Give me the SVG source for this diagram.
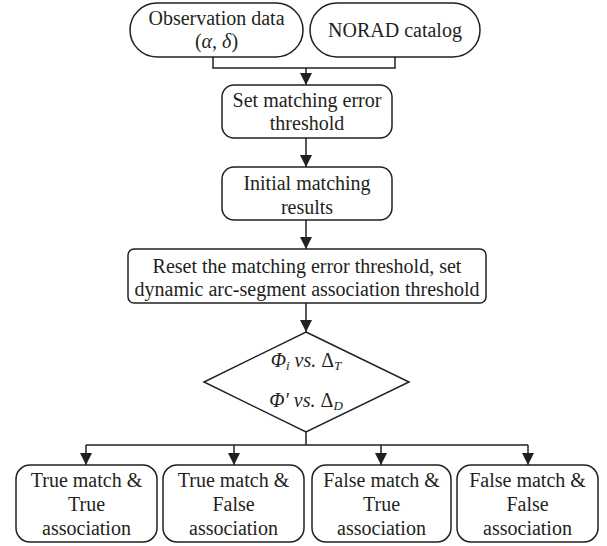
<svg xmlns="http://www.w3.org/2000/svg" width="607" height="546" viewBox="0 0 607 546">
<defs>
<marker id="ah" markerWidth="12" markerHeight="12" viewBox="0 0 12 12" refX="12" refY="6" orient="auto" markerUnits="userSpaceOnUse">
<path d="M0,0 L12,6 L0,12 Z" fill="#231f20"/>
</marker>
<style>
.box{fill:#fff;stroke:#231f20;stroke-width:1.5}
.ln{fill:none;stroke:#231f20;stroke-width:1.5}
.ar{fill:none;stroke:#231f20;stroke-width:1.5;marker-end:url(#ah)}
text{font-family:"Liberation Serif","Times New Roman",serif;font-size:20px;fill:#231f20;text-anchor:middle}
.it{font-style:italic}
.sub{font-size:13px}
</style>
</defs>
<rect width="607" height="546" fill="#fff"/>
<g id="connectors">
<path class="ln" d="M213,57 V68 H395 V57"/>
<path class="ar" d="M306,68 V85"/>
<path class="ar" d="M306,138 V167"/>
<path class="ar" d="M306,220 V249"/>
<path class="ar" d="M306,303 V332"/>
<path class="ln" d="M306,432 V445 M86,445 H528"/>
<path class="ar" d="M86,445 V465"/>
<path class="ar" d="M234,445 V465"/>
<path class="ar" d="M381,445 V465"/>
<path class="ar" d="M528,445 V465"/>
</g>
<g id="obs">
<rect class="box" x="130" y="3" width="173" height="54" rx="27"/>
<text x="216.5" y="25">Observation data</text>
<text x="216.5" y="48">(<tspan class="it">α</tspan>, <tspan class="it">δ</tspan>)</text>
</g>
<g id="norad">
<rect class="box" x="310" y="3" width="170" height="54" rx="27"/>
<text x="395" y="37">NORAD catalog</text>
</g>
<g id="set">
<rect class="box" x="222" y="85" width="170" height="53" rx="12"/>
<text x="307" y="107">Set matching error</text>
<text x="307" y="130">threshold</text>
</g>
<g id="initial">
<rect class="box" x="222" y="167" width="170" height="53" rx="12"/>
<text x="307" y="190">Initial matching</text>
<text x="307" y="214">results</text>
</g>
<g id="reset">
<rect class="box" x="128" y="249" width="358" height="54" rx="6"/>
<text x="307" y="273">Reset the matching error threshold, set</text>
<text x="307" y="296">dynamic arc-segment association threshold</text>
</g>
<g id="decision">
<path class="box" d="M306,332 L409,382 L306,432 L204,382 Z"/>
<text x="306" y="367"><tspan class="it">Φ</tspan><tspan class="it sub" dy="3">i</tspan><tspan class="it" dy="-3"> vs.</tspan> Δ<tspan class="it sub" dy="3">T</tspan></text>
<text x="306" y="407"><tspan class="it">Φ′ vs.</tspan> Δ<tspan class="it sub" dy="3">D</tspan></text>
</g>
<g id="tt">
<rect class="box" x="16" y="465" width="141" height="77" rx="14"/>
<text x="86.5" y="487">True match &amp;</text>
<text x="86.5" y="511">True</text>
<text x="86.5" y="535">association</text>
</g>
<g id="tf">
<rect class="box" x="163" y="465" width="141" height="77" rx="14"/>
<text x="233.5" y="487">True match &amp;</text>
<text x="233.5" y="511">False</text>
<text x="233.5" y="535">association</text>
</g>
<g id="ft">
<rect class="box" x="312" y="465" width="139" height="77" rx="14"/>
<text x="381.5" y="487">False match &amp;</text>
<text x="381.5" y="511">True</text>
<text x="381.5" y="535">association</text>
</g>
<g id="ff">
<rect class="box" x="457" y="465" width="141" height="77" rx="14"/>
<text x="527.5" y="487">False match &amp;</text>
<text x="527.5" y="511">False</text>
<text x="527.5" y="535">association</text>
</g>
</svg>
